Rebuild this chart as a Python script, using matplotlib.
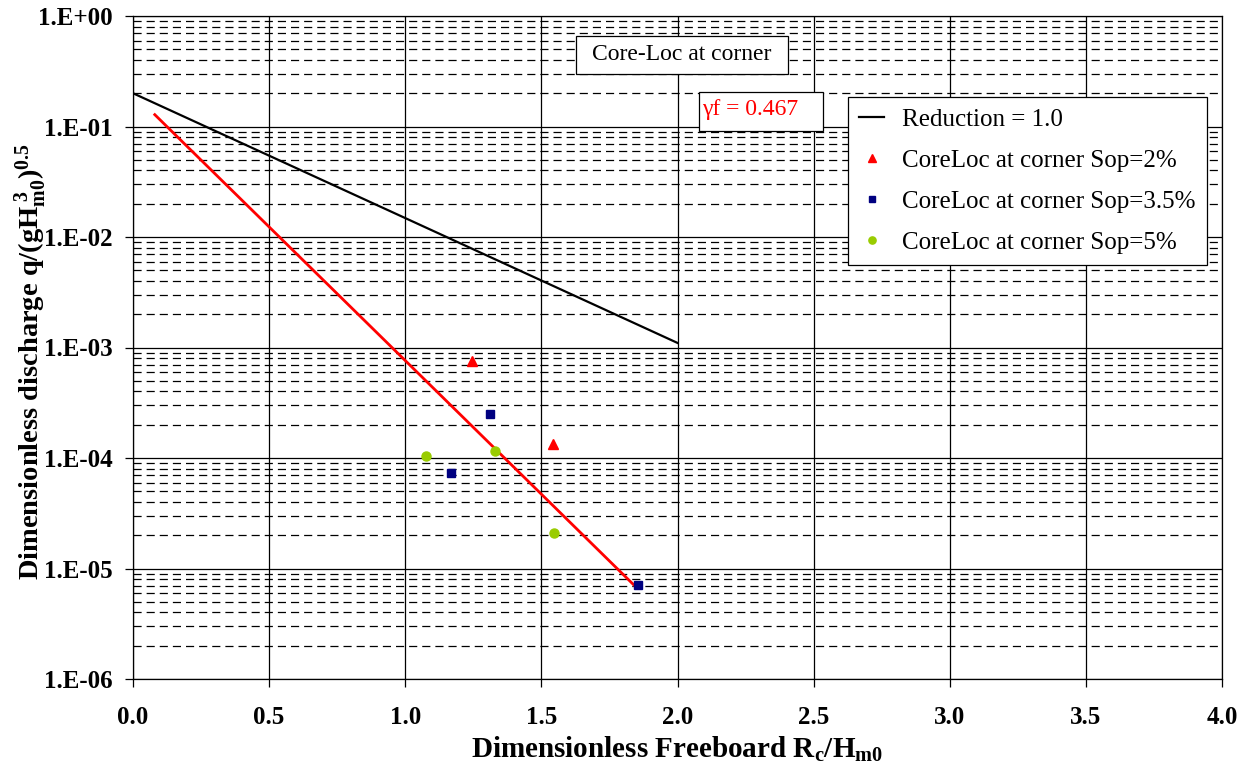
import matplotlib
matplotlib.use("Agg")
import matplotlib.pyplot as plt
import numpy as np
from matplotlib.patches import Rectangle
from matplotlib.ticker import FixedLocator, LogLocator, NullFormatter

plt.rcParams['font.family'] = ['Liberation Serif', 'DejaVu Serif']
plt.rcParams['mathtext.fontset'] = 'custom'
plt.rcParams['mathtext.rm'] = 'Liberation Serif'
plt.rcParams['mathtext.it'] = 'Liberation Serif:italic'
plt.rcParams['mathtext.bf'] = 'Liberation Serif:bold'

# Reference overtopping curves (straight lines on log scale, endpoints)
ref_x = [0.0, 2.0]
ref_q = [0.2, 1.1e-3]
fit_x = [0.08, 1.85]
fit_q = [0.128, 6.7e-6]

# Measurements
sop2_x = [1.245, 1.543]
sop2_q = [7.5e-4, 1.34e-4]
sop35_x = [1.311, 1.168, 1.855]
sop35_q = [2.5e-4, 7.3e-5, 7.1e-6]
sop5_x = [1.078, 1.330, 1.545]
sop5_q = [1.04e-4, 1.16e-4, 2.1e-5]

x_ticks = [0.0, 0.5, 1.0, 1.5, 2.0, 2.5, 3.0, 3.5, 4.0]
y_ticks = [1e-6, 1e-5, 1e-4, 1e-3, 1e-2, 1e-1, 1e0]
y_tick_labels = ['1.E-06', '1.E-05', '1.E-04', '1.E-03', '1.E-02', '1.E-01', '1.E+00']

W, H = 1255, 766
fig = plt.figure(figsize=(W / 100, H / 100), dpi=100)
ax = fig.add_axes([133 / W, 1 - 679 / H, (1222 - 133) / W, (679 - 16) / H])
ax.set_yscale('log')
ax.set_xlim(0, 4.0)
ax.set_ylim(1e-6, 1e0)

# Grid: solid decades and half-units, dashed intermediate decades
ax.yaxis.set_major_locator(FixedLocator(y_ticks))
ax.yaxis.set_minor_locator(LogLocator(base=10, subs=np.arange(2, 10)))
ax.yaxis.set_minor_formatter(NullFormatter())
ax.set_yticklabels(y_tick_labels)
ax.xaxis.set_major_locator(FixedLocator(x_ticks))
ax.set_xticklabels([f'{v:.1f}' for v in x_ticks])
ax.grid(True, which='major', axis='both', color='black', linewidth=0.9)
ax.grid(True, which='minor', axis='y', color='black', linewidth=0.9,
        linestyle=(0, (6.5, 4)))
ax.tick_params(which='minor', length=0)
ax.tick_params(which='major', direction='out', length=5.5, width=0.9,
               labelsize=18)
ax.tick_params(axis='y', which='major', pad=9)
ax.tick_params(axis='x', which='major', pad=14)
for lab in ax.get_xticklabels() + ax.get_yticklabels():
    lab.set_fontweight('bold')
for s in ax.spines.values():
    s.set_color('black')
    s.set_linewidth(0.9)
ax.set_axisbelow(True)

ax.plot(ref_x, ref_q, color='black', linewidth=1.6, label='Reduction = 1.0')
ax.plot(fit_x, fit_q, color='red', linewidth=2.0)
ax.plot(sop2_x, sop2_q, linestyle='none', marker='^', color='red',
        markersize=7, label='CoreLoc at corner Sop=2%')
ax.plot(sop35_x, sop35_q, linestyle='none', marker='s', color='#000080',
        markersize=6, label='CoreLoc at corner Sop=3.5%')
ax.plot(sop5_x, sop5_q, linestyle='none', marker='o', color='#99cc00',
        markersize=6.5, label='CoreLoc at corner Sop=5%')

leg = ax.legend(loc='upper left',
                bbox_to_anchor=((848 - 133) / 1089, (679 - 97) / 663),
                fontsize=18, frameon=True, fancybox=False, edgecolor='black',
                framealpha=1, handlelength=1.0, handletextpad=0.7,
                borderpad=0.45, labelspacing=0.74, markerscale=0.8,
                borderaxespad=0)
leg.get_frame().set_linewidth(0.9)

# Annotation boxes
fig.patches.append(Rectangle((576 / W, 1 - 74 / H), 212 / W, 38 / H,
                             transform=fig.transFigure, facecolor='white',
                             edgecolor='black', linewidth=0.9, zorder=5))
fig.text(682 / W, 1 - 54 / H, 'Core-Loc at corner', ha='center', va='center',
         fontsize=17, zorder=6)
fig.patches.append(Rectangle((699 / W, 1 - 131 / H), 124 / W, 39 / H,
                             transform=fig.transFigure, facecolor='white',
                             edgecolor='black', linewidth=0.9, zorder=5))
fig.text(702 / W, 1 - 110 / H, 'γf = 0.467', ha='left', va='center',
         fontsize=17, color='red', zorder=6)

ax.set_xlabel(r'Dimensionless Freeboard R$_{\mathbf{c}}$/H$_{\mathbf{m0}}$',
              fontsize=21, fontweight='bold', labelpad=4)
fig.text(31 / W, 1 - 362 / H,
         r'Dimensionless discharge q/(gH$_{\mathbf{m0}}^{\ \mathbf{3}}$)$^{\mathbf{0.5}}$',
         fontsize=20.5, fontweight='bold', rotation=90,
         ha='center', va='center')

fig.savefig('out.png', dpi=100, facecolor='white')
